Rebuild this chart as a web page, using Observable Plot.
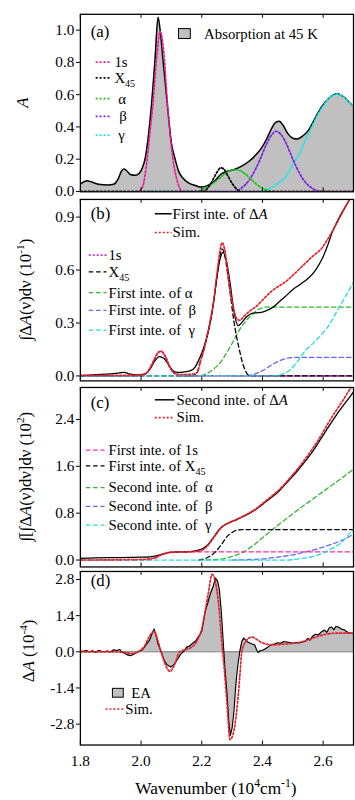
<!DOCTYPE html>
<html><head><meta charset="utf-8">
<script src="https://cdn.jsdelivr.net/npm/d3@7"></script>
<script src="https://cdn.jsdelivr.net/npm/@observablehq/plot@0.6"></script>
<style>
body{margin:0;background:#fff;}
#chart{position:relative;width:355px;height:800px;overflow:hidden;background:#fff;}
#chart svg{position:absolute;left:0;}
</style></head><body><div id="chart"></div>
<script>
// ---------- DATA (wavenumber in 10^4 cm^-1, value) ----------
const xTicks = [1.8, 2.0, 2.2, 2.4, 2.6];
const yTicksA = [0.0, 0.2, 0.4, 0.6, 0.8, 1.0];
const yTicksB = [0.0, 0.3, 0.6, 0.9];
const yTicksC = [0.0, 0.8, 1.6, 2.4];
const yTicksD = [-2.8, -1.4, 0.0, 1.4, 2.8];

// (a) absorption at 45 K and components
const absorption = [[1.80,0.045],[1.812,0.06],[1.823,0.067],[1.835,0.06],[1.86,0.045],[1.89,0.04],[1.91,0.045],[1.925,0.08],[1.935,0.125],[1.943,0.14],[1.952,0.13],[1.965,0.105],[1.98,0.10],[1.995,0.115],[2.005,0.15],[2.014,0.21],[2.025,0.36],[2.033,0.51],[2.046,0.82],[2.056,1.08],[2.064,0.98],[2.072,0.82],[2.088,0.51],[2.10,0.30],[2.111,0.21],[2.125,0.12],[2.137,0.085],[2.155,0.055],[2.179,0.037],[2.195,0.028],[2.21,0.03],[2.228,0.045],[2.245,0.07],[2.262,0.105],[2.285,0.125],[2.305,0.135],[2.33,0.155],[2.358,0.19],[2.38,0.23],[2.397,0.27],[2.415,0.33],[2.43,0.39],[2.445,0.43],[2.455,0.435],[2.468,0.41],[2.483,0.36],[2.50,0.33],[2.515,0.325],[2.53,0.34],[2.552,0.38],[2.575,0.46],[2.597,0.53],[2.617,0.575],[2.635,0.60],[2.646,0.605],[2.66,0.595],[2.675,0.575],[2.69,0.545],[2.70,0.53]];
const a1s = [[1.80,0],[1.99,0],[2.005,0.03],[2.02,0.2],[2.03,0.38],[2.04,0.56],[2.05,0.8],[2.063,0.99],[2.075,0.86],[2.088,0.52],[2.097,0.33],[2.105,0.2],[2.12,0.06],[2.137,0],[2.70,0]];
const aX45 = [[1.80,0],[2.205,0],[2.225,0.035],[2.24,0.085],[2.252,0.125],[2.262,0.147],[2.272,0.14],[2.285,0.10],[2.30,0.05],[2.315,0.015],[2.328,0],[2.70,0]];
const aAlpha = [[1.80,0],[2.186,0],[2.21,0.02],[2.24,0.055],[2.27,0.10],[2.29,0.125],[2.31,0.135],[2.33,0.125],[2.355,0.09],[2.38,0.045],[2.40,0.02],[2.42,0.005],[2.44,0],[2.70,0]];
const aBeta = [[1.80,0],[2.31,0],[2.33,0.02],[2.36,0.08],[2.39,0.19],[2.415,0.30],[2.43,0.35],[2.445,0.373],[2.46,0.355],[2.48,0.29],[2.50,0.20],[2.52,0.12],[2.54,0.06],[2.56,0.025],[2.58,0.005],[2.60,0],[2.70,0]];
const aGamma = [[1.80,0],[2.38,0],[2.42,0.015],[2.45,0.05],[2.48,0.10],[2.50,0.165],[2.52,0.23],[2.542,0.32],[2.56,0.39],[2.575,0.45],[2.60,0.53],[2.62,0.58],[2.64,0.60],[2.646,0.603],[2.655,0.60],[2.67,0.58],[2.69,0.545],[2.70,0.53]];

// (b) first integral of ΔA (10^-1)
const bFirst = [[1.80,0.002],[1.85,0.008],[1.90,0.012],[1.93,0.018],[1.945,0.02],[1.96,0.012],[1.99,0.006],[2.01,0.01],[2.03,0.04],[2.045,0.085],[2.06,0.11],[2.075,0.10],[2.09,0.065],[2.105,0.03],[2.121,0.02],[2.14,0.022],[2.163,0.03],[2.178,0.05],[2.19,0.09],[2.20,0.13],[2.21,0.18],[2.22,0.24],[2.23,0.32],[2.24,0.43],[2.25,0.56],[2.26,0.66],[2.27,0.70],[2.28,0.66],[2.293,0.53],[2.303,0.40],[2.31,0.33],[2.32,0.285],[2.333,0.305],[2.348,0.335],[2.365,0.355],[2.38,0.358],[2.395,0.36],[2.413,0.37],[2.435,0.39],[2.455,0.42],[2.475,0.45],[2.50,0.49],[2.525,0.52],[2.552,0.555],[2.575,0.60],[2.597,0.665],[2.615,0.74],[2.63,0.815],[2.645,0.87],[2.66,0.92],[2.672,0.955],[2.69,1.01],[2.70,1.04]];
const bSim = [[1.80,0.004],[1.95,0.004],[2.00,0.005],[2.02,0.02],[2.04,0.08],[2.055,0.13],[2.066,0.14],[2.08,0.11],[2.095,0.05],[2.11,0.015],[2.13,0.008],[2.17,0.01],[2.185,0.02],[2.195,0.08],[2.207,0.15],[2.218,0.23],[2.23,0.33],[2.24,0.435],[2.25,0.58],[2.26,0.71],[2.267,0.755],[2.275,0.72],[2.285,0.60],[2.295,0.47],[2.305,0.38],[2.315,0.325],[2.325,0.315],[2.34,0.34],[2.36,0.37],[2.38,0.395],[2.403,0.435],[2.43,0.48],[2.455,0.51],[2.477,0.535],[2.50,0.57],[2.53,0.62],[2.56,0.67],[2.597,0.728],[2.62,0.79],[2.64,0.85],[2.66,0.915],[2.69,1.01],[2.70,1.04]];
const b1s = [[1.80,0],[2.00,0],[2.02,0.02],[2.04,0.08],[2.055,0.13],[2.066,0.14],[2.08,0.11],[2.095,0.05],[2.11,0.015],[2.125,0],[2.70,0]];
const bX45 = [[1.80,0],[2.17,0],[2.185,0.02],[2.195,0.08],[2.207,0.15],[2.218,0.23],[2.23,0.33],[2.24,0.43],[2.25,0.56],[2.26,0.68],[2.267,0.72],[2.275,0.69],[2.285,0.58],[2.295,0.45],[2.305,0.32],[2.315,0.22],[2.325,0.14],[2.335,0.07],[2.345,0.025],[2.358,0],[2.70,0]];
const bAlpha = [[2.15,0],[2.19,0],[2.218,0.015],[2.24,0.04],[2.267,0.09],[2.285,0.14],[2.305,0.20],[2.32,0.25],[2.338,0.295],[2.355,0.33],[2.374,0.36],[2.39,0.38],[2.413,0.39],[2.70,0.39]];
const bBeta = [[2.30,0],[2.33,0],[2.36,0.005],[2.38,0.015],[2.40,0.03],[2.43,0.062],[2.455,0.085],[2.48,0.10],[2.51,0.105],[2.70,0.105]];
const bGamma = [[1.80,0],[2.44,0],[2.465,0.01],[2.488,0.03],[2.51,0.07],[2.542,0.145],[2.57,0.19],[2.597,0.24],[2.62,0.29],[2.64,0.35],[2.665,0.425],[2.69,0.50],[2.70,0.53]];

// (c) second integral of ΔA (10^2)
const cSecond = [[1.80,0.03],[1.90,0.04],[2.00,0.05],[2.03,0.055],[2.05,0.07],[2.07,0.10],[2.09,0.125],[2.11,0.135],[2.15,0.14],[2.186,0.165],[2.205,0.20],[2.22,0.26],[2.235,0.36],[2.25,0.47],[2.265,0.56],[2.283,0.62],[2.30,0.66],[2.315,0.69],[2.335,0.74],[2.358,0.80],[2.38,0.87],[2.40,0.95],[2.43,1.07],[2.455,1.18],[2.48,1.32],[2.51,1.49],[2.54,1.68],[2.565,1.85],[2.59,2.05],[2.617,2.27],[2.64,2.45],[2.662,2.61],[2.69,2.80],[2.70,2.87]];
const cSim = [[1.80,0.0],[1.95,0.005],[2.00,0.01],[2.03,0.02],[2.05,0.05],[2.07,0.10],[2.09,0.125],[2.11,0.135],[2.15,0.14],[2.186,0.15],[2.205,0.18],[2.22,0.25],[2.235,0.35],[2.25,0.46],[2.265,0.56],[2.283,0.62],[2.30,0.66],[2.315,0.695],[2.335,0.745],[2.358,0.81],[2.38,0.88],[2.40,0.965],[2.43,1.09],[2.455,1.20],[2.48,1.34],[2.51,1.52],[2.54,1.72],[2.565,1.90],[2.59,2.10],[2.617,2.34],[2.64,2.53],[2.662,2.70],[2.69,2.93],[2.70,3.0]];
const c1s = [[1.80,0],[2.02,0],[2.04,0.02],[2.055,0.05],[2.07,0.09],[2.085,0.125],[2.10,0.14],[2.70,0.14]];
const cX45 = [[2.19,0],[2.208,0.02],[2.225,0.06],[2.245,0.14],[2.267,0.28],[2.283,0.40],[2.30,0.47],[2.315,0.51],[2.335,0.52],[2.70,0.52]];
const cAlpha = [[2.19,0],[2.25,0.01],[2.293,0.05],[2.338,0.14],[2.37,0.25],[2.40,0.38],[2.455,0.61],[2.51,0.83],[2.60,1.17],[2.69,1.51],[2.70,1.55]];
const cBeta = [[2.30,0],[2.40,0.02],[2.45,0.05],[2.51,0.10],[2.56,0.16],[2.617,0.25],[2.65,0.31],[2.69,0.41],[2.70,0.44]];
const cGamma = [[1.80,0],[2.48,0],[2.52,0.02],[2.565,0.06],[2.60,0.12],[2.63,0.20],[2.66,0.30],[2.69,0.47],[2.70,0.52]];

// (d) electroabsorption ΔA (10^-4)
const ea = [[1.80,0.03],[1.81,0.02],[1.82,0.05],[1.83,0.0],[1.84,0.04],[1.85,-0.02],[1.86,0.05],[1.87,0.02],[1.88,0.01],[1.89,0.03],[1.90,0.0],[1.91,0.08],[1.92,0.05],[1.93,0.09],[1.935,0.0],[1.945,-0.05],[1.955,-0.12],[1.965,-0.15],[1.975,-0.10],[1.985,-0.03],[1.995,0.02],[2.005,0.08],[2.018,0.30],[2.028,0.45],[2.036,0.70],[2.043,0.88],[2.05,0.60],[2.056,0.30],[2.066,0.0],[2.075,-0.30],[2.085,-0.50],[2.098,-0.59],[2.108,-0.50],[2.121,-0.28],[2.13,-0.10],[2.143,0.05],[2.15,0.18],[2.16,0.22],[2.17,0.33],[2.18,0.42],[2.19,0.60],[2.20,0.80],[2.212,1.60],[2.22,1.90],[2.228,2.24],[2.238,2.55],[2.245,2.85],[2.252,2.75],[2.258,2.40],[2.264,1.60],[2.27,0.50],[2.276,-0.60],[2.283,-1.60],[2.289,-2.70],[2.294,-3.24],[2.30,-2.95],[2.306,-2.30],[2.312,-1.30],[2.318,-0.60],[2.325,0.0],[2.332,0.40],[2.338,0.53],[2.345,0.45],[2.352,0.38],[2.358,0.34],[2.366,0.30],[2.374,0.27],[2.38,0.10],[2.386,-0.03],[2.393,0.05],[2.40,0.06],[2.41,0.12],[2.42,0.20],[2.43,0.28],[2.44,0.30],[2.45,0.35],[2.46,0.33],[2.47,0.40],[2.48,0.38],[2.49,0.36],[2.50,0.33],[2.51,0.36],[2.52,0.34],[2.53,0.38],[2.54,0.40],[2.55,0.52],[2.557,0.45],[2.565,0.60],[2.575,0.68],[2.585,0.66],[2.595,0.78],[2.605,0.84],[2.612,0.75],[2.62,0.92],[2.628,0.96],[2.635,0.85],[2.642,0.98],[2.65,0.96],[2.66,0.88],[2.67,0.85],[2.68,0.76],[2.69,0.72],[2.70,0.70]];
const dSim = [[1.80,0],[1.90,0],[1.95,-0.03],[1.97,-0.08],[1.99,0.0],[2.01,0.20],[2.03,0.65],[2.043,0.80],[2.055,0.45],[2.066,0.0],[2.08,-0.50],[2.095,-0.76],[2.11,-0.50],[2.127,0.0],[2.145,0.08],[2.163,0.15],[2.186,0.46],[2.20,0.90],[2.21,1.50],[2.222,2.30],[2.234,3.0],[2.245,2.70],[2.255,1.90],[2.265,0.50],[2.275,-0.80],[2.283,-2.0],[2.293,-3.40],[2.303,-3.20],[2.315,-2.30],[2.325,-1.0],[2.332,0.0],[2.345,0.40],[2.364,0.57],[2.385,0.45],[2.40,0.34],[2.435,0.27],[2.47,0.30],[2.51,0.34],[2.54,0.42],[2.575,0.57],[2.61,0.68],[2.64,0.72],[2.70,0.72]];

// ---------- STYLE ----------
const FONT = "'Liberation Serif','Times New Roman',Times,serif";
const GRAY = "#c0c0c0";
const RED = "#e8202a";
const C = {
  a1s:"#f0189a", aAlpha:"#1fbf1f", aBeta:"#7a1fe6", aGamma:"#1ee6e6",
  b1s:"#c832c8", alpha:"#2db82d", beta:"#6464ff", gamma:"#22dddd", c1s:"#ff2a9d"
};
const DOT = {strokeDasharray:"2,2", strokeWidth:1.7};
const DASH = {strokeDasharray:"4.5,3", strokeWidth:1.3};
const LEG = 15;
const pts = arr => arr.map(([x,y]) => ({x,y}));

function line(data, stroke, style, curve="monotone-x") {
  return Plot.line(pts(data), {x:"x", y:"y", stroke, curve, clip:true, ...style});
}

function panel({height, mt, mb, yDomain, yTicks, marks, showX}) {
  const ph = height - mt - mb;
  return Plot.plot({
    width: 360, height, marginLeft: 81, marginRight: 2, marginTop: mt, marginBottom: mb,
    style: {fontFamily: FONT, fontSize: "15.5px", color: "#000", background: "transparent", overflow: "visible"},
    x: showX
      ? {domain:[1.8,2.7], ticks:xTicks, tickSize:0, tickPadding:10, tickFormat:d=>d.toFixed(1), label:null}
      : {domain:[1.8,2.7], axis:null},
    y: {domain:yDomain, ticks:yTicks, tickSize:4, tickPadding:2, tickFormat:d=>d.toFixed(1), label:null},
    marks: [
      ...marks,
      Plot.tickX(xTicks, {x:d=>d, insetTop: ph-4, stroke:"black", strokeWidth:1}),
      Plot.tickX(xTicks, {x:d=>d, insetBottom: ph-4, stroke:"black", strokeWidth:1}),
      Plot.frame({stroke:"black", strokeWidth:1.3})
    ]
  });
}

// rich text helper (sub/superscripts, italics)
function rich(sel, x, y, parts, {size=LEG, anchor="start", rotate=0}={}) {
  const t = sel.append("text").attr("font-family", FONT).attr("font-size", size)
    .attr("fill", "black").attr("text-anchor", anchor);
  if (rotate) t.attr("transform", `translate(${x},${y}) rotate(${rotate})`);
  else t.attr("x", x).attr("y", y);
  let shift = 0;
  for (const p of parts) {
    const [s, kind] = Array.isArray(p) ? p : [p, null];
    const ts = t.append("tspan").text(s);
    let target = 0;
    if (kind === "sup") target = -0.42*size;
    else if (kind === "sub") target = 0.28*size;
    if (target - shift !== 0) ts.attr("dy", target - shift);
    shift = target;
    if (kind === "sup" || kind === "sub") ts.attr("font-size", size*0.68);
    if (kind === "i") ts.attr("font-style", "italic");
  }
  return t;
}
function legLine(sel, x1, x2, y, stroke, style) {
  const l = sel.append("line").attr("x1",x1).attr("x2",x2).attr("y1",y).attr("y2",y)
    .attr("stroke", stroke).attr("stroke-width", style ? style.strokeWidth : 1.5);
  if (style && style.strokeDasharray) l.attr("stroke-dasharray", style.strokeDasharray);
}
const SOLID = {strokeWidth:1.5};

const root = document.getElementById("chart");
function place(svg, top) { svg.style.top = top + "px"; root.appendChild(svg); return d3.select(svg); }

// ---------- PANEL A ----------
const svgA = panel({height:196, mt:14, mb:2, yDomain:[-0.002,1.098], yTicks:yTicksA, marks:[
  Plot.areaY(pts(absorption), {x:"x", y:"y", fill:GRAY, curve:"monotone-x", clip:true}),
  line(absorption, "black", {strokeWidth:1.5}),
  line(aGamma, C.aGamma, DOT),
  line(aBeta, C.aBeta, DOT),
  line(aAlpha, C.aAlpha, DOT),
  line(a1s, C.a1s, DOT),
  line(aX45, "black", DOT)
]});
const A = place(svgA, 0);
rich(A, 92, 38, ["(a)"], {size:17});
A.append("rect").attr("x",181).attr("y",29).attr("width",12).attr("height",10).attr("fill",GRAY).attr("stroke","black").attr("stroke-width",1);
rich(A, 207, 39.5, ["Absorption at 45 K"]);
[[63,C.a1s,["1s"],116],[79,"black",["X",["45","sub"]],116],[100,C.aAlpha,["α"],120],[118,C.aBeta,["β"],121],[137,C.aGamma,["γ"],120]]
  .forEach(([y,c,parts,tx]) => { legLine(A, 97, 113, y, c, DOT); rich(A, tx, y+5, parts); });
rich(A, 28, 104, [["A","i"]], {size:17, anchor:"middle", rotate:-90});

// ---------- PANEL B ----------
const svgB = panel({height:190, mt:3, mb:3, yDomain:[-0.028,1.0], yTicks:yTicksB, marks:[
  line(bAlpha, C.alpha, DASH),
  line(bBeta, C.beta, DASH),
  line(b1s, C.b1s, DOT),
  line(bX45, "black", DASH),
  line(bGamma, C.gamma, DASH),
  line(bFirst, "black", {strokeWidth:1.3}),
  line(bSim, RED, DOT)
]});
const B = place(svgB, 196);
const ob = 196;
rich(B, 92, 219-ob, ["(b)"], {size:17});
legLine(B, 157, 174, 214-ob, "black", SOLID);
rich(B, 175, 219-ob, ["First inte. of Δ", ["A","i"]]);
legLine(B, 157, 174, 233-ob, RED, DOT);
rich(B, 175, 238-ob, ["Sim."]);
[[256,C.b1s,DOT,["1s"]],[273,"black",DASH,["X",["45","sub"]]],[294,C.alpha,DASH,["First inte. of α"]],[312,C.beta,DASH,["First inte. of  β"]],[332,C.gamma,DASH,["First inte. of  γ"]]]
  .forEach(([y,c,st,parts]) => { legLine(B, 90, 108, y-ob, c, st); rich(B, 110, y-ob+5, parts); });
rich(B, 31, 291-ob, ["∫Δ", ["A","i"], "(ν)dν (10", ["-1","sup"], ")"], {size:17, anchor:"middle", rotate:-90});

// ---------- PANEL C ----------
const svgC = panel({height:184, mt:1, mb:1, yDomain:[-0.118,2.946], yTicks:yTicksC, marks:[
  line(cAlpha, C.alpha, DASH),
  line(cBeta, C.beta, DASH),
  line(c1s, C.c1s, DASH),
  line(cX45, "black", DASH),
  line(cGamma, C.gamma, DASH),
  line(cSecond, "black", {strokeWidth:1.3}),
  line(cSim, RED, DOT)
]});
const Cg = place(svgC, 386);
const oc = 386;
rich(Cg, 92, 408-oc, ["(c)"], {size:17});
legLine(Cg, 157, 177, 400-oc, "black", SOLID);
rich(Cg, 179, 405-oc, ["Second inte. of Δ", ["A","i"]]);
legLine(Cg, 157, 177, 418-oc, RED, DOT);
rich(Cg, 179, 423-oc, ["Sim."]);
[[451,C.c1s,["First inte. of 1s"]],[467,"black",["First inte. of X",["45","sub"]]],[489,C.alpha,["Second inte. of  α"]],[508,C.beta,["Second inte. of  β"]],[527,C.gamma,["Second inte. of  γ"]]]
  .forEach(([y,c,parts]) => { legLine(Cg, 87, 106, y-oc, c, DASH); rich(Cg, 110, y-oc+5, parts); });
rich(Cg, 31, 478-oc, ["∫[∫Δ", ["A","i"], "(ν)dν]dν (10", ["2","sup"], ")"], {size:17, anchor:"middle", rotate:-90});

// ---------- PANEL D ----------
const svgD = panel({height:230, mt:1, mb:53, yDomain:[-3.61,3.11], yTicks:yTicksD, showX:true, marks:[
  Plot.areaY(pts(ea), {x:"x", y:"y", fill:GRAY, clip:true}),
  Plot.ruleY([0], {stroke:"#777", strokeWidth:1}),
  line(ea, "black", {strokeWidth:1.2}, "linear"),
  line(dSim, RED, DOT)
]});
const D = place(svgD, 570);
const od = 570;
rich(D, 92, 586-od, ["(d)"], {size:17});
D.append("rect").attr("x",114).attr("y",690-od).attr("width",11).attr("height",9).attr("fill",GRAY).attr("stroke","black").attr("stroke-width",1);
rich(D, 133, 700-od, ["EA"]);
legLine(D, 107, 125, 711-od, RED, DOT);
rich(D, 127, 716-od, ["Sim."]);
rich(D, 34, 652-od, ["Δ", ["A","i"], " (10", ["-4","sup"], ")"], {size:17, anchor:"middle", rotate:-90});
rich(D, 219, 797-od, ["Wavenumber (10", ["4","sup"], "cm", ["-1","sup"], ")"], {size:17.5, anchor:"middle"});
</script></body></html>
